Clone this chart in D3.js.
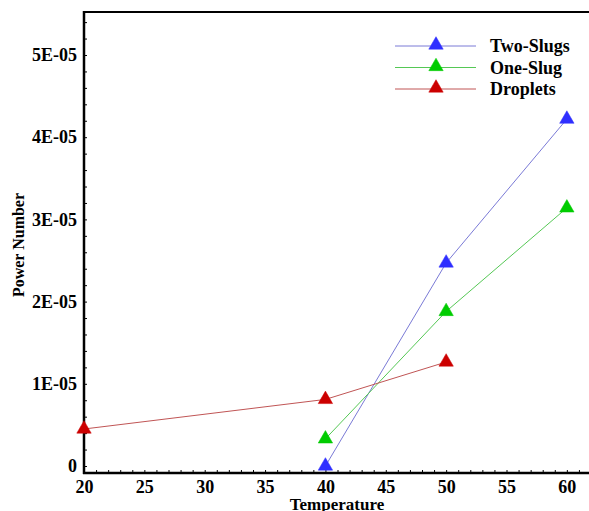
<!DOCTYPE html>
<html>
<head>
<meta charset="utf-8">
<script src="https://cdn.jsdelivr.net/npm/d3@7"></script>
<style>
html,body{margin:0;padding:0;background:#fff;}
svg{display:block;}
text{font-family:"Liberation Serif","Times New Roman",serif;}
</style>
</head>
<body>
<script>
const temperatures = [20, 40, 50, 60];
const twoSlugs = [null, 0.0, 2.47e-5, 4.22e-5];
const oneSlug = [null, 0.33e-5, 1.88e-5, 3.14e-5];
const droplets = [0.45e-5, 0.81e-5, 1.265e-5, null];
const seriesNames = ["Two-Slugs", "One-Slug", "Droplets"];
const xTickLabels = [20, 25, 30, 35, 40, 45, 50, 55, 60];
const yTickLabels = ["0", "1E-05", "2E-05", "3E-05", "4E-05", "5E-05"];
const yTickValues = [0, 1e-5, 2e-5, 3e-5, 4e-5, 5e-5];

const W = 589, H = 511;
const svg = d3.select("body").append("svg").attr("width", W).attr("height", H);

const x = d3.scaleLinear().domain([20, 62]).range([84, 591]);
const y = d3.scaleLinear().domain([0, 5e-5]).range([466, 55]);
const yTop = 12, yBot = 473;
const FF = '"Liberation Serif","Times New Roman",serif';

const styles = [
  {line: "#7a7ad6", fill: "#2f2fff", stroke: "#2f2fff"},
  {line: "#55c855", fill: "#00cc00", stroke: "#00cc00"},
  {line: "#c05555", fill: "#cc0000", stroke: "#cc0000"}
];
const allSeries = [twoSlugs, oneSlug, droplets];

// frame line
svg.append("line").attr("x1", 84).attr("x2", W).attr("y1", yTop).attr("y2", yTop)
  .attr("stroke", "#000").attr("stroke-width", 2);

// x axis
const xMinor = d3.range(20, 62, 1);
const gx = svg.append("g").attr("transform", `translate(0,${yBot})`)
  .call(d3.axisTop(x).tickValues(xMinor).tickSize(3).tickFormat(""));
gx.select(".domain").remove();
gx.selectAll(".tick line").attr("stroke", "#000").attr("stroke-width", 1);
svg.append("line").attr("x1", 83).attr("x2", W).attr("y1", yBot).attr("y2", yBot)
  .attr("stroke", "#000").attr("stroke-width", 2.5);
const gxl = svg.append("g").attr("transform", `translate(0,${yBot})`)
  .call(d3.axisBottom(x).tickValues(xTickLabels).tickSize(0).tickPadding(7).tickFormat(d3.format("d")));
gxl.select(".domain").remove();
gxl.selectAll("text").attr("font-size", 18).attr("font-weight", "bold").attr("fill", "#000")
  .style("font-family", FF);

// y axis
const yMinor = d3.range(0, 5.5e-5, 2e-6);
const gy = svg.append("g").attr("transform", `translate(84,0)`)
  .call(d3.axisRight(y).tickValues(yMinor).tickSize(3).tickFormat(""));
gy.select(".domain").remove();
gy.selectAll(".tick line").attr("stroke", "#000").attr("stroke-width", 1);
svg.append("line").attr("x1", 84).attr("x2", 84).attr("y1", yTop - 1).attr("y2", yBot + 1)
  .attr("stroke", "#000").attr("stroke-width", 2.5);
const gyl = svg.append("g").attr("transform", `translate(84,0)`)
  .call(d3.axisLeft(y).tickValues(yTickValues).tickSize(0).tickPadding(7)
    .tickFormat((d, i) => yTickLabels[i]));
gyl.select(".domain").remove();
gyl.selectAll("text").attr("font-size", 18).attr("font-weight", "bold").attr("fill", "#000")
  .style("font-family", FF);

// titles
svg.append("text").attr("x", 337).attr("y", 510).attr("text-anchor", "middle")
  .attr("font-size", 17).attr("font-weight", "bold").style("font-family", FF).text("Temperature");
svg.append("text").attr("transform", "translate(24,245) rotate(-90)").attr("text-anchor", "middle")
  .attr("font-size", 16).attr("font-weight", "bold").style("font-family", FF).text("Power Number");

// series
const tri = d3.symbol().type(d3.symbolTriangle).size(90);
allSeries.forEach((vals, si) => {
  const pts = temperatures.map((t, i) => ({t, v: vals[i]})).filter(d => d.v !== null);
  svg.append("path").datum(pts)
    .attr("d", d3.line().x(d => x(d.t)).y(d => y(d.v)))
    .attr("fill", "none").attr("stroke", styles[si].line).attr("stroke-width", 1);
  svg.selectAll(null).data(pts).enter().append("path")
    .attr("d", tri)
    .attr("transform", d => `translate(${x(d.t)},${y(d.v)})`)
    .attr("fill", styles[si].fill).attr("stroke", styles[si].stroke).attr("stroke-width", 0.5);
});

// legend
const legY = [46, 67.5, 89];
seriesNames.forEach((name, i) => {
  const g = svg.append("g");
  g.append("line").attr("x1", 395).attr("x2", 476).attr("y1", legY[i]).attr("y2", legY[i])
    .attr("stroke", styles[i].line).attr("stroke-width", 1);
  g.append("path").attr("d", tri).attr("transform", `translate(436,${legY[i] - 1})`)
    .attr("fill", styles[i].fill).attr("stroke", styles[i].stroke).attr("stroke-width", 0.5);
  g.append("text").attr("x", 490).attr("y", legY[i] + 6).attr("font-size", 18)
    .attr("font-weight", "bold").style("font-family", FF).text(name);
});
</script>
</body>
</html>
